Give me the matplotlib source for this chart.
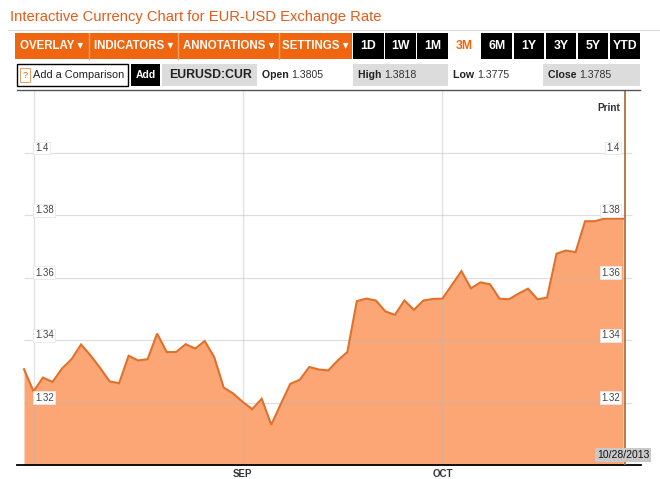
import matplotlib
matplotlib.use("Agg")
import matplotlib.pyplot as plt
from matplotlib.patches import Rectangle
from matplotlib.lines import Line2D
import pandas as pd

plt.rcParams['font.family'] = ['Liberation Sans', 'DejaVu Sans']

# ---------------- data ----------------
dates = pd.bdate_range('2013-07-31', '2013-10-28')
rates = [1.3307, 1.3236, 1.3280, 1.3266, 1.3309, 1.3339, 1.3386, 1.3351, 1.3311, 1.3268,
         1.3262, 1.3350, 1.3335, 1.3339, 1.3421, 1.3362, 1.3362, 1.3387, 1.3373, 1.3397,
         1.3346, 1.3248, 1.3229, 1.3202, 1.3179, 1.3212, 1.3129, 1.3195, 1.3260, 1.3273,
         1.3314, 1.3306, 1.3303, 1.3335, 1.3362, 1.3525, 1.3533, 1.3527, 1.3492, 1.3481,
         1.3527, 1.3497, 1.3527, 1.3532, 1.3533, 1.3577, 1.3621, 1.3566, 1.3585, 1.3579,
         1.3533, 1.3531, 1.3549, 1.3565, 1.3531, 1.3536, 1.3677, 1.3687, 1.3682, 1.3781,
         1.3781, 1.3789, 1.3789, 1.3789]
y_ticks = [1.32, 1.34, 1.36, 1.38, 1.40]
y_tick_labels = ['1.32', '1.34', '1.36', '1.38', '1.4']
month_labels = ['', 'SEP', 'OCT']
title = 'Interactive Currency Chart for EUR-USD Exchange Rate'
menu_items = ['OVERLAY ▾', 'INDICATORS ▾', 'ANNOTATIONS ▾', 'SETTINGS ▾']
ranges = ['1D', '1W', '1M', '3M', '6M', '1Y', '3Y', '5Y', 'YTD']
selected_range = '3M'
ticker = 'EURUSD:CUR'
quote_names = ['Open', 'High', 'Low', 'Close']
quote_values = ['1.3805', '1.3818', '1.3775', '1.3785']
last_date = '10/28/2013'

W, H = 660, 479
fig = plt.figure(figsize=(W / 100, H / 100), dpi=100)
fig.patch.set_facecolor('white')

def fx(x):
    return x / W

def fy(y):
    return 1 - y / H

def rect(x0, y0, x1, y1, fc, ec='none', lw=0):
    fig.add_artist(Rectangle((fx(x0), fy(y1)), fx(x1) - fx(x0), fy(y0) - fy(y1),
                             transform=fig.transFigure, facecolor=fc, edgecolor=ec, lw=lw))

def hline(x0, x1, y, color, lw=1):
    fig.add_artist(Line2D([fx(x0), fx(x1)], [fy(y), fy(y)], transform=fig.transFigure,
                          color=color, lw=lw))

ORANGE = '#f0650f'

# title
fig.text(fx(10), fy(17), title, color='#e55b17', fontsize=10.65, va='center', ha='left')
hline(8, 660, 30, '#d8d8d8', 0.8)

# toolbar
rect(15, 33, 352, 59, ORANGE)
seps = [15, 89, 178, 279, 352]
for k, name in enumerate(menu_items):
    if k > 0:
        fig.add_artist(Line2D([fx(seps[k]), fx(seps[k])], [fy(33), fy(59)],
                              transform=fig.transFigure, color='#f7a36a', lw=1))
    fig.text(fx((seps[k] + seps[k + 1]) / 2), fy(46), name, color='white',
             fontsize=8.3, fontweight='bold', ha='center', va='center')
bx0 = 353
for k, r in enumerate(ranges):
    x0 = bx0 + k * 32.1
    x1 = x0 + 30.5
    if r == selected_range:
        fc, tc = 'white', ORANGE
    else:
        fc, tc = 'black', 'white'
    rect(x0, 33, x1, 59, fc)
    fig.text(fx((x0 + x1) / 2), fy(46), r, color=tc, fontsize=8.8,
             fontweight='bold', ha='center', va='center')

# second row
rect(17, 64, 128, 86, 'white', ec='black', lw=1)
rect(20, 68, 30, 82, 'white', ec='#e8a060', lw=0.7)
fig.text(fx(25), fy(75), '?', color='#e06a10', fontsize=6.5, va='center', ha='center')
fig.text(fx(33), fy(75), 'Add a Comparison', color='#222222', fontsize=7.9, va='center', ha='left')
rect(131, 64, 160, 86, 'black')
fig.text(fx(145.5), fy(75), 'Add', color='white', fontsize=7.5, fontweight='bold', va='center', ha='center')
rect(162, 64, 257, 86, '#dcdcdc')
fig.text(fx(210), fy(75), ticker, color='#222222', fontsize=8.8, fontweight='bold', va='center', ha='center')
quote_boxes = [(257, 352, None), (353, 448, '#dcdcdc'), (448, 543, None), (543, 640, '#dcdcdc')]
for (x0, x1, fc), nm, val in zip(quote_boxes, quote_names, quote_values):
    if fc:
        rect(x0, 64, x1, 86, fc)
    t = fig.text(fx(x0 + 5), fy(75), nm + ' ', color='#222222', fontsize=7.6,
                 fontweight='bold', va='center', ha='left')
    fig.canvas.draw()
    bb = t.get_window_extent()
    fig.text(bb.x1 / W, fy(75), val, color='#333333', fontsize=7.6, va='center', ha='left')

hline(17, 640, 89.5, '#555555', 1)

# ---------------- chart ----------------
x = list(range(len(rates)))
px_per = 9.51
x_left_px, x0_px = 17, 24
ax = fig.add_axes([fx(17), fy(465), fx(641) - fx(17), fy(89.5) - fy(465)])
ax.set_xlim((x_left_px - x0_px) / px_per, (641 - x0_px) / px_per)
ax.set_ylim(1.30, 1.4203)
for s in ['top', 'left', 'right']:
    ax.spines[s].set_visible(False)
ax.spines['bottom'].set_color('black')
ax.spines['bottom'].set_linewidth(1.3)
ax.set_facecolor('none')

ax.fill_between(x, rates, 1.30, color='#fba674', lw=0, zorder=1)
ax.plot(x, rates, color='#e0702a', lw=1.5, zorder=3, solid_joinstyle='miter')

# month boundaries
month_pos = [i for i in range(1, len(dates)) if dates[i].month != dates[i - 1].month]
for p in month_pos:
    ax.axvline(p, color='#b8b8b8', lw=1, alpha=0.4, zorder=2)
ax.set_xticks(month_pos)
ax.set_xticklabels(month_labels, fontsize=7, fontweight='bold', color='#333333')
ax.tick_params(axis='x', length=0, pad=3)
ax.set_yticks([])

# horizontal grid
xmax_grid = (632 - x0_px) / px_per
ax.hlines(y_ticks, 0, xmax_grid, color='#b8b8b8', lw=0.9, alpha=0.45, zorder=2)
box = dict(boxstyle='square,pad=0.15', fc='white', ec='#e8e8e8', lw=0.6)
for v, lab in zip(y_ticks, y_tick_labels):
    ax.annotate(lab, (1.15, v), xytext=(0, 3.5), textcoords='offset points',
                fontsize=7, color='#444444', ha='left', va='center', bbox=box, zorder=5)
    ax.annotate(lab, ((620 - x0_px) / px_per, v), xytext=(0, 3.5), textcoords='offset points',
                fontsize=7, color='#444444', ha='right', va='center', bbox=box, zorder=5)

# cursor line at last point
ax.axvline(x[-1] + 0.15, color='#b0622a', lw=1.2, zorder=4)

fig.text(fx(620), fy(108), 'Print', fontsize=7.3, fontweight='bold', color='#333333',
         ha='right', va='center')
fig.text(fx(597), fy(455), last_date, fontsize=7.5, color='#111111', ha='left', va='center',
         bbox=dict(boxstyle='square,pad=0.2', fc='#c9c9c9', ec='none'))

fig.savefig('out.png', dpi=100)
